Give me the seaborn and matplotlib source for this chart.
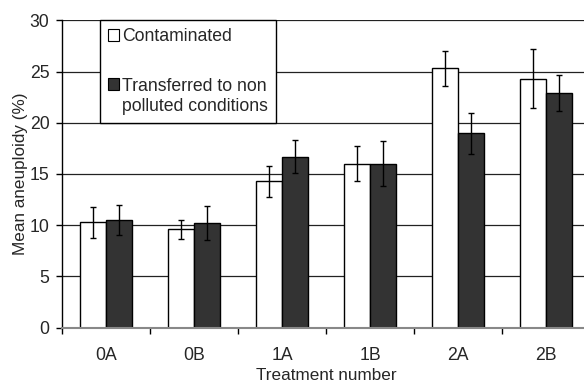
import numpy as np
import pandas as pd
import matplotlib
matplotlib.use("Agg")
import matplotlib.pyplot as plt
import seaborn as sns
from matplotlib.patches import Rectangle
from matplotlib.legend_handler import HandlerPatch

categories = ["0A", "0B", "1A", "1B", "2A", "2B"]
series_names = ["Contaminated", "Transferred to non\npolluted conditions"]
contaminated = [10.3, 9.6, 14.3, 16.0, 25.3, 24.3]
transferred = [10.5, 10.2, 16.7, 16.0, 19.0, 22.9]
contaminated_err = [1.5, 0.95, 1.5, 1.7, 1.7, 2.9]
transferred_err = [1.5, 1.65, 1.6, 2.2, 2.0, 1.8]
y_ticks = [0, 5, 10, 15, 20, 25, 30]

sns.set_theme(style="white")
plt.rcParams["font.family"] = ["Liberation Sans", "DejaVu Sans"]
FS = 12.7
LFS = 12.3

df = pd.DataFrame({
    "Treatment": categories * 2,
    "Value": contaminated + transferred,
    "Group": [series_names[0]] * len(categories) + [series_names[1]] * len(categories),
})

fig = plt.figure(figsize=(5.84, 3.85), dpi=100)
ax = fig.add_axes([62 / 584, (385 - 327.7) / 385, 528 / 584, 307.4 / 385])

sns.barplot(data=df, x="Treatment", y="Value", hue="Group", order=categories,
            hue_order=series_names, palette=["white", "#333333"],
            edgecolor="black", linewidth=1.0, width=0.58, errorbar=None,
            legend=False, ax=ax, saturation=1)

errs = [contaminated_err, transferred_err]
for cont, err in zip(ax.containers, errs):
    xs = [p.get_x() + p.get_width() / 2 for p in cont.patches]
    ys = [p.get_height() for p in cont.patches]
    ax.errorbar(xs, ys, yerr=err, fmt="none", ecolor="black", elinewidth=1,
                capsize=2.2, capthick=1, zorder=5)

ax.set_ylim(0, 30)
ax.set_xlim(-0.5, len(categories) - 0.5)
ax.set_yticks(y_ticks)
ax.set_yticklabels([str(t) for t in y_ticks], fontsize=FS)
ax.set_xticks(np.arange(len(categories) + 1) - 0.5)
ax.set_xticklabels([])
ax.set_xticks(np.arange(len(categories)), minor=True)
ax.set_xticklabels(categories, minor=True, fontsize=FS)
ax.tick_params(axis="x", which="major", direction="out", length=4.5, width=1,
               color="black", bottom=True)
ax.tick_params(axis="x", which="minor", length=0, pad=14)
ax.tick_params(axis="y", direction="out", length=4, width=1, color="black",
               left=True, pad=5)

ax.yaxis.grid(True, color="#222222", linewidth=0.9)
ax.xaxis.grid(False)
ax.set_axisbelow(True)
for s in ["top", "right"]:
    ax.spines[s].set_visible(False)
ax.spines["left"].set_color("black")
ax.spines["left"].set_linewidth(1)
ax.spines["bottom"].set_color("#888888")
ax.spines["bottom"].set_linewidth(1.5)

ax.set_xlabel("Treatment number", fontsize=LFS, labelpad=2.5)
ax.set_ylabel("Mean aneuploidy (%)", fontsize=LFS, labelpad=1)


def raised_patch(legend, orig_handle, xdescent, ydescent, width, height, fontsize):
    return Rectangle((-xdescent, -ydescent + 0.72 * fontsize), width, height)


handles = [Rectangle((0, 0), 1, 1, facecolor="white", edgecolor="black", linewidth=0.8),
           Rectangle((0, 0), 1, 1, facecolor="#333333", edgecolor="black", linewidth=0.8)]
leg = ax.legend(handles, series_names, loc="upper left",
                bbox_to_anchor=(38 / 528, 1.0), bbox_transform=ax.transAxes,
                borderaxespad=0, fontsize=FS, frameon=True, fancybox=False,
                framealpha=1, edgecolor="black", handlelength=0.63,
                handleheight=0.63, handletextpad=0.17, labelspacing=1.85,
                borderpad=0.45,
                handler_map={handles[1]: HandlerPatch(patch_func=raised_patch)})
leg.get_frame().set_linewidth(1)
for t in leg.get_texts():
    t.set_linespacing(1.25)

fig.savefig("out.png", dpi=100)
